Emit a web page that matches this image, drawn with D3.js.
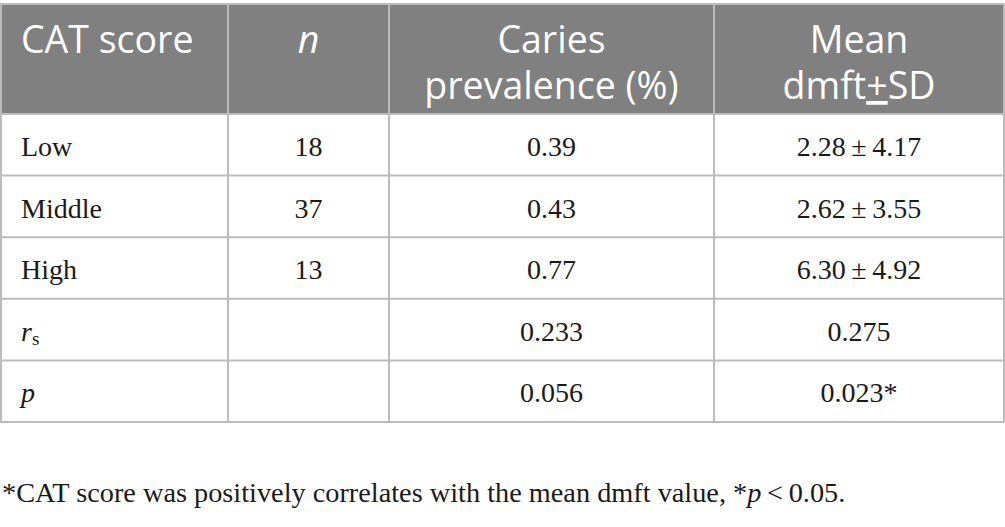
<!DOCTYPE html>
<html><head><meta charset="utf-8">
<script src="https://cdn.jsdelivr.net/npm/d3@7"></script>
<style>
html,body{margin:0;padding:0;background:#fff;}
svg{display:block;}
</style></head>
<body>
<svg id="c" width="1005" height="527"></svg>
<script>
// ---- data ----
const headers = [["CAT score"], ["n"], ["Caries", "prevalence (%)"], ["Mean", "dmft±SD"]];
const categories = ["Low", "Middle", "High"];
const nValues = [18, 37, 13];
const prevalence = ["0.39", "0.43", "0.77"];
const dmftMean = ["2.28", "2.62", "6.30"];
const dmftSD = ["4.17", "3.55", "4.92"];
const statLabels = ["rs", "p"];
const statPrevalence = ["0.233", "0.056"];
const statDmft = ["0.275", "0.023*"];
const footnote = "*CAT score was positively correlates with the mean dmft value, *p < 0.05.";

// ---- layout ----
const svg = d3.select("#c");
const colEdges = [0, 228, 389, 714, 1004];
const tableTop = 4, headerBottom = 114, tableBottom = 422;
const rowKeys = d3.range(categories.length + statLabels.length);
const y = d3.scaleBand().domain(rowKeys).range([headerBottom, tableBottom]);
const colC = i => (colEdges[i] + colEdges[i + 1]) / 2;
const gridColor = "#bcbcbc";
const serif = "'Liberation Serif','Times New Roman',serif";
const sans = "'Open Sans','Noto Sans',sans-serif";

// header background
svg.append("rect").attr("x", 0).attr("y", tableTop).attr("width", colEdges[4]).attr("height", headerBottom - tableTop).attr("fill", "#808080");

// header text
const hg = svg.append("g").attr("font-family", sans).attr("font-size", 37.5).attr("fill", "#fff");
headers.forEach((lines, i) => {
  const t = hg.append("text")
    .attr("x", i === 0 ? 21 : colC(i))
    .attr("text-anchor", i === 0 ? "start" : "middle");
  lines.forEach((ln, j) => {
    const ts = t.append("tspan").attr("x", i === 0 ? 21 : colC(i)).attr("y", 53 + j * 46);
    if (i === 1) { ts.attr("font-style", "italic").text(ln); }
    else if (ln.includes("±")) {
      const [a, b] = ln.split("±");
      ts.text(a);
      t.append("tspan").attr("text-decoration", "underline").text("+");
      t.append("tspan").text(b);
    } else ts.text(ln);
  });
});

// body rows
const bg = svg.append("g").attr("font-family", serif).attr("font-size", 28).attr("fill", "#1a1a1a");
const baseOff = 42;
categories.forEach((c, i) => {
  const yy = y(i) + baseOff;
  bg.append("text").attr("x", 21).attr("y", yy).text(c);
  bg.append("text").attr("x", colC(1)).attr("y", yy).attr("text-anchor", "middle").text(nValues[i]);
  bg.append("text").attr("x", colC(2)).attr("y", yy).attr("text-anchor", "middle").text(prevalence[i]);
  bg.append("text").attr("x", colC(3)).attr("y", yy).attr("text-anchor", "middle").text(dmftMean[i] + "\u2009±\u2009" + dmftSD[i]);
});
statLabels.forEach((s, k) => {
  const i = categories.length + k;
  const yy = y(i) + baseOff;
  const t = bg.append("text").attr("x", 21).attr("y", yy);
  if (s === "rs") {
    t.append("tspan").attr("font-style", "italic").text("r");
    t.append("tspan").attr("font-size", 19).attr("dy", 4).text("s");
  } else {
    t.append("tspan").attr("font-style", "italic").text(s);
  }
  bg.append("text").attr("x", colC(2)).attr("y", yy).attr("text-anchor", "middle").text(statPrevalence[k]);
  bg.append("text").attr("x", colC(3)).attr("y", yy).attr("text-anchor", "middle").text(statDmft[k]);
});

// grid lines
const grid = svg.append("g").attr("stroke", gridColor).attr("stroke-width", 2).attr("fill", "none");
const hLines = [tableTop, headerBottom].concat(rowKeys.map(r => y(r) + y.bandwidth()));
grid.selectAll("line.h").data(hLines).join("line").attr("class", "h")
  .attr("x1", 0).attr("x2", colEdges[4]).attr("y1", d => d).attr("y2", d => d);
grid.selectAll("line.v").data(colEdges).join("line").attr("class", "v")
  .attr("x1", d => d === 0 ? 1 : d).attr("x2", d => d === 0 ? 1 : d)
  .attr("y1", tableTop).attr("y2", tableBottom);

// footnote
const fn = svg.append("text").attr("x", 2).attr("y", 502).attr("font-family", serif).attr("font-size", 28.3).attr("fill", "#1a1a1a");
const parts = footnote.split("*p");
fn.append("tspan").text(parts[0] + "*");
fn.append("tspan").attr("font-style", "italic").text("p");
fn.append("tspan").text(parts[1].replace(" < ", "\u2009<\u2009"));
</script>
</body></html>
